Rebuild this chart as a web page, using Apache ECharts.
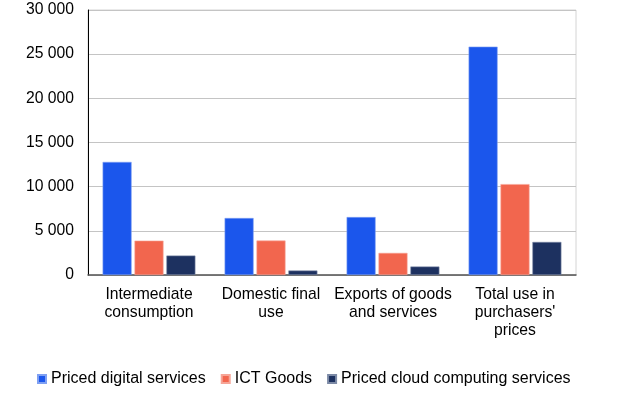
<!DOCTYPE html>
<html>
<head>
<meta charset="utf-8">
<script src="https://cdn.jsdelivr.net/npm/echarts@6/dist/echarts.min.js"></script>
<style>
  html, body { margin: 0; padding: 0; background: #fff; }
  #chart { width: 625px; height: 399px; }
</style>
</head>
<body>
<div id="chart"></div>
<script>
// categories and values
var categories = ['Intermediate\nconsumption', 'Domestic final\nuse', 'Exports of goods\nand services', "Total use in\npurchasers'\nprices"];
var digitalServices = [12800, 6450, 6560, 25850];
var ictGoods = [3890, 3900, 2500, 10290];
var cloudServices = [2200, 510, 960, 3740];

var font = 'Liberation Sans, Arial, sans-serif';

var chart = echarts.init(document.getElementById('chart'));

function fmt(v) {
    return String(v).replace(/\B(?=(\d{3})+(?!\d))/g, ' ');
}

var option = {
    animation: false,
    textStyle: { fontFamily: font },
    grid: {
        left: 88,
        right: 49,
        top: 10,
        bottom: 124,
        show: true,
        borderColor: '#d4d4d4',
        borderWidth: 1
    },
    legend: {
        left: 32,
        top: 366,
        icon: 'rect',
        itemWidth: 8,
        itemHeight: 8,
        itemGap: 15,
        textStyle: { fontSize: 16, color: '#000', fontFamily: font },
        data: ['Priced digital services', 'ICT Goods', 'Priced cloud computing services']
    },
    xAxis: {
        type: 'category',
        data: categories,
        axisLine: { lineStyle: { color: '#555', width: 1.5 } },
        axisTick: { show: false },
        axisLabel: {
            color: '#000',
            fontSize: 15.7,
            lineHeight: 18.4,
            margin: 10,
            interval: 0,
            fontFamily: font
        }
    },
    yAxis: {
        type: 'value',
        min: 0,
        max: 30000,
        interval: 5000,
        axisLine: { show: true, lineStyle: { color: '#000' } },
        axisTick: { show: false },
        axisLabel: {
            color: '#000',
            fontSize: 15.7,
            margin: 14,
            fontFamily: font,
            formatter: fmt
        },
        splitLine: { lineStyle: { color: '#c4c4c4', width: 1 } }
    },
    series: [
        {
            name: 'Priced digital services',
            type: 'bar',
            data: digitalServices,
            barWidth: 29,
            barGap: '10%',
            itemStyle: { color: '#1b56ec', borderColor: '#7fa0f2', borderWidth: 0.6 }
        },
        {
            name: 'ICT Goods',
            type: 'bar',
            data: ictGoods,
            barWidth: 29,
            barGap: '10%',
            itemStyle: { color: '#f2664e', borderColor: '#f6a597', borderWidth: 0.6 }
        },
        {
            name: 'Priced cloud computing services',
            type: 'bar',
            data: cloudServices,
            barWidth: 29,
            barGap: '10%',
            itemStyle: { color: '#1d3160', borderColor: '#7c8aa6', borderWidth: 0.6 }
        }
    ]
};

chart.setOption(option);
</script>
</body>
</html>
